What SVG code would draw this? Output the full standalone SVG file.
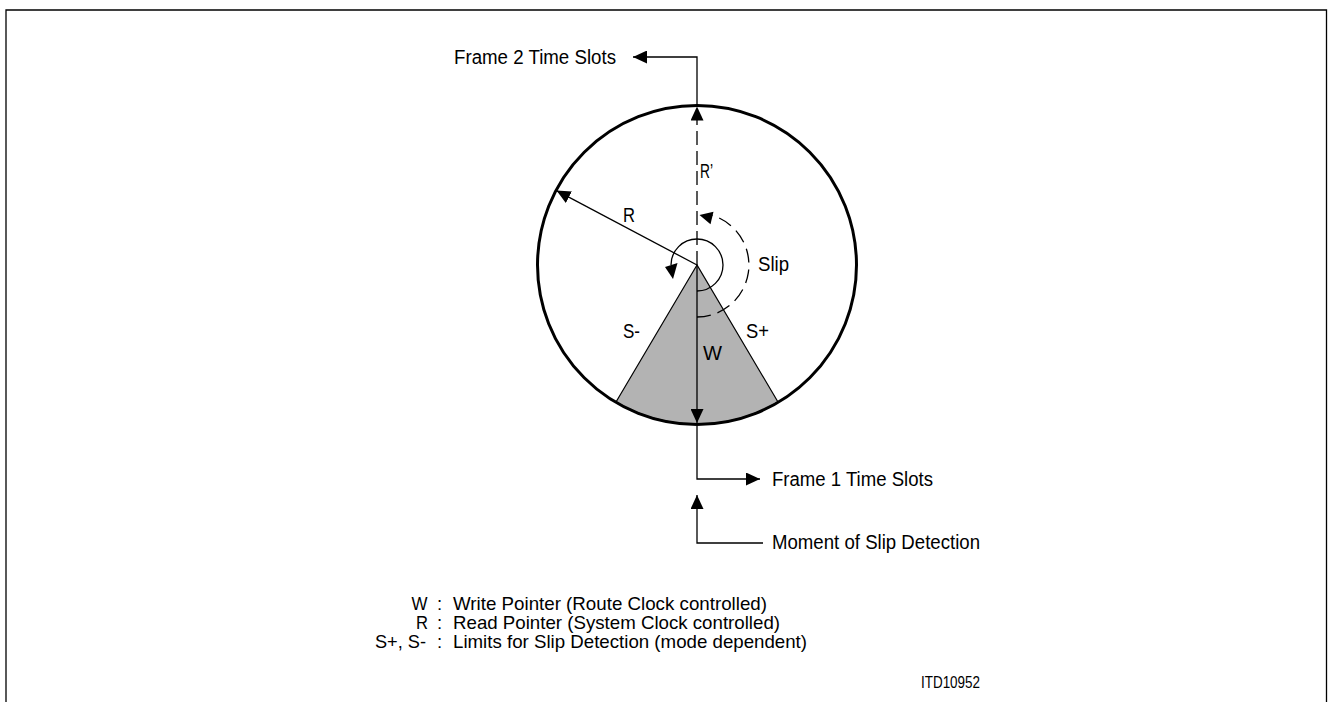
<svg xmlns="http://www.w3.org/2000/svg" width="1329" height="702" viewBox="0 0 1329 702">
<defs>
<marker id="ah" viewBox="0 0 14 13" refX="14" refY="6.5" markerWidth="14" markerHeight="13" markerUnits="userSpaceOnUse" orient="auto"><path d="M0,0 L14,6.5 L0,13 Z" fill="#000"/></marker>
</defs>
<style>
.ln{fill:none;stroke:#000;stroke-width:1.3}
.dash{stroke-dasharray:14 6}
.t{font-family:"Liberation Sans",Arial,sans-serif;font-size:20px;fill:#000}
.lg{font-size:18.5px}
.s{font-size:16px}
.ah{fill:#000;stroke:none}
</style>
<rect width="1329" height="702" fill="#fff"/>
<path id="frame" class="ln" d="M6,702 V10 H1326.5 V702"/>
<g id="buffer">
<path id="sector" d="M697,265 L616,402 A159.5,159.5 0 0 0 778,402 Z" fill="#b3b3b3" stroke="#000" stroke-width="1.2"/>
<circle id="ring" cx="697" cy="265" r="159.5" fill="none" stroke="#000" stroke-width="3"/>
</g>
<g id="connectors">
<path id="w-pointer" class="ln" d="M697,265 V423" marker-end="url(#ah)"/>
<path id="r2-pointer" class="ln dash" d="M697,265 V106.5" marker-end="url(#ah)"/>
<path id="r-pointer" class="ln" d="M697,265 L556.5,190.6" marker-end="url(#ah)"/>
<path id="to-frame2" class="ln" d="M697,104 V57 H633" marker-end="url(#ah)"/>
<path id="to-frame1" class="ln" d="M697,426 V479 H760" marker-end="url(#ah)"/>
<path id="to-moment" class="ln" d="M763,543 H697 V495" marker-end="url(#ah)"/>
<path id="rot-arc" class="ln" d="M697,291 A26,26 0 1 0 671,265"/>
<polygon class="ah" points="665,267 677.5,263 673,279"/>
<path id="slip-arc" class="ln" style="stroke-dasharray:14 7" d="M697,317 A52,52 0 0 0 712.2,215.3"/>
<polygon class="ah" points="713.5,211.7 710.5,224.3 699.5,215"/>
</g>
<g id="labels" class="t">
<text x="454" y="64" textLength="162" lengthAdjust="spacingAndGlyphs">Frame 2 Time Slots</text>
<text x="772" y="486" textLength="161" lengthAdjust="spacingAndGlyphs">Frame 1 Time Slots</text>
<text x="772" y="549" textLength="208" lengthAdjust="spacingAndGlyphs">Moment of Slip Detection</text>
<text x="700" y="178" textLength="13" lengthAdjust="spacingAndGlyphs">R’</text>
<text x="623" y="222" textLength="12" lengthAdjust="spacingAndGlyphs">R</text>
<text x="758" y="271" textLength="31" lengthAdjust="spacingAndGlyphs">Slip</text>
<text x="623" y="338" textLength="17" lengthAdjust="spacingAndGlyphs">S-</text>
<text x="746" y="338" textLength="23" lengthAdjust="spacingAndGlyphs">S+</text>
<text x="703" y="360" textLength="19" lengthAdjust="spacingAndGlyphs">W</text>
</g>
<g id="legend" class="t lg">
<text x="411.5" y="610" textLength="16" lengthAdjust="spacingAndGlyphs">W</text>
<text x="437" y="610">:</text>
<text x="453" y="610" textLength="314" lengthAdjust="spacingAndGlyphs">Write Pointer (Route Clock controlled)</text>
<text x="416" y="629" textLength="12" lengthAdjust="spacingAndGlyphs">R</text>
<text x="437" y="629">:</text>
<text x="453" y="629" textLength="327" lengthAdjust="spacingAndGlyphs">Read Pointer (System Clock controlled)</text>
<text x="375" y="648" textLength="51" lengthAdjust="spacingAndGlyphs">S+, S-</text>
<text x="437" y="648">:</text>
<text x="453" y="648" textLength="354" lengthAdjust="spacingAndGlyphs">Limits for Slip Detection (mode dependent)</text>
<text class="s" x="921" y="688" textLength="59" lengthAdjust="spacingAndGlyphs">ITD10952</text>
</g>
</svg>
